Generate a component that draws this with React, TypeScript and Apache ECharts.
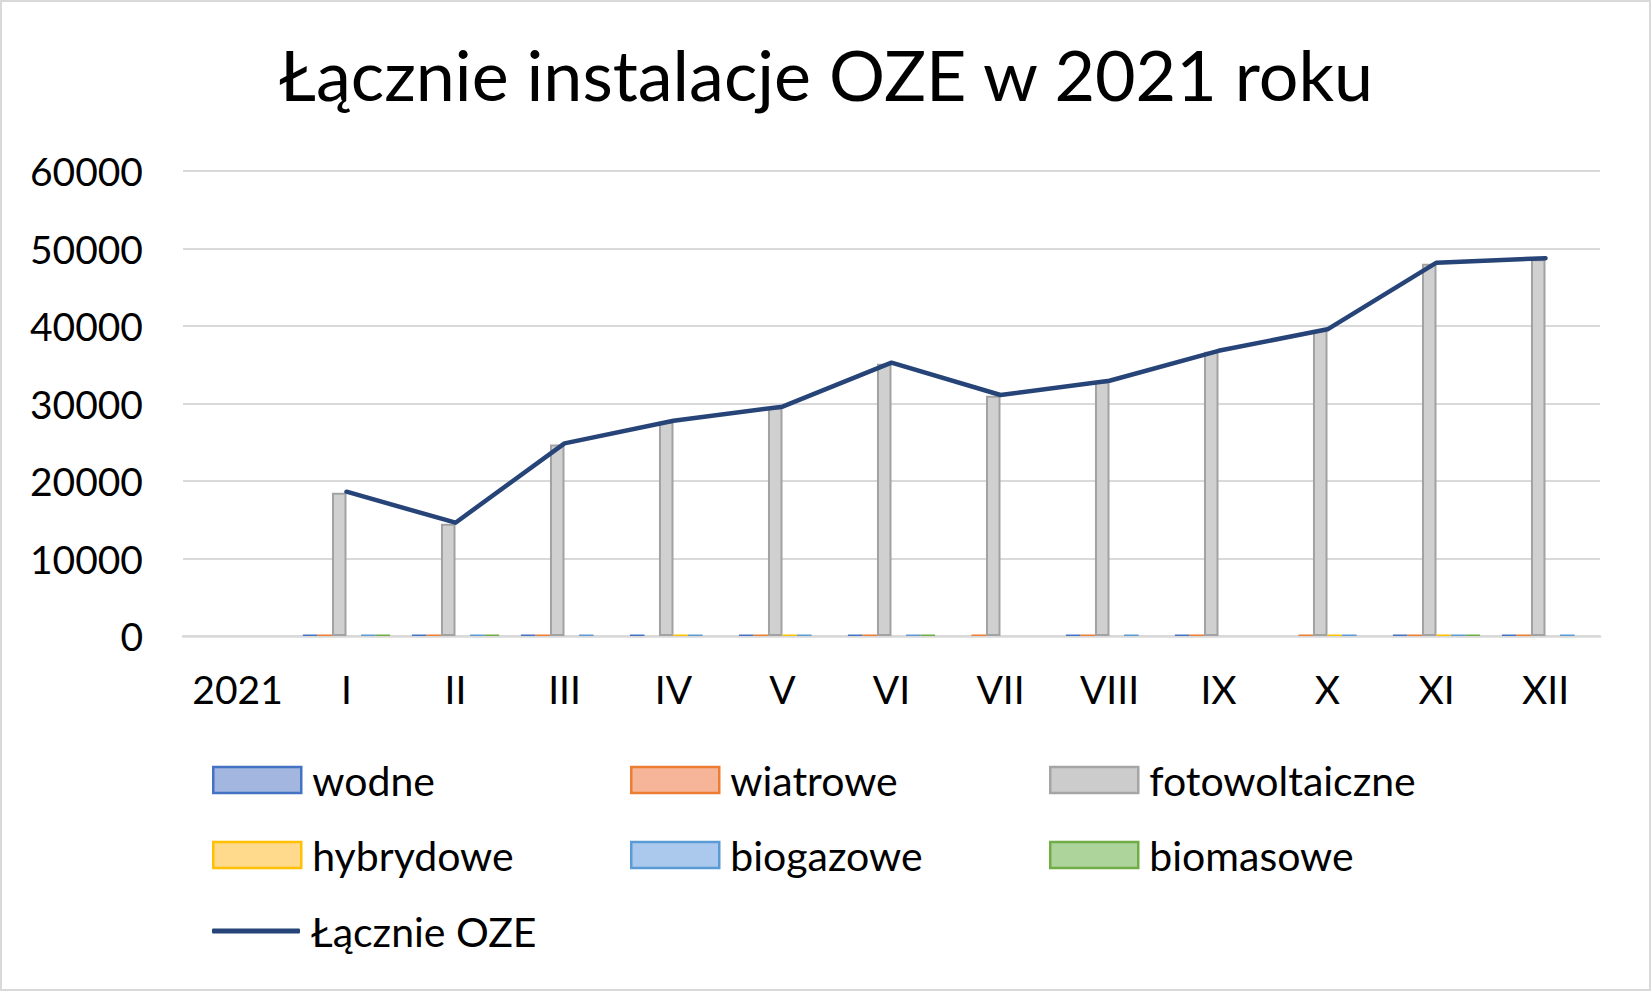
import React, { useEffect, useRef } from "react";
import * as echarts from "echarts";

const categories = ["2021", "I", "II", "III", "IV", "V", "VI", "VII", "VIII", "IX", "X", "XI", "XII"];
const yTicks = { min: 0, max: 60000, interval: 10000 };

const wodne: (number | string)[] = ["-", 22, 19, 24, 18, 21, 23, "-", 20, 17, "-", 25, 21];
const wiatrowe: (number | string)[] = ["-", 15, 14, 12, "-", 16, 13, 11, 14, 12, 13, 15, 14];
const fotowoltaiczne: (number | string)[] = ["-", 18480, 14500, 24720, 27650, 29460, 35130, 30990, 32810, 36690, 39440, 48020, 48600];
const hybrydowe: (number | string)[] = ["-", "-", "-", "-", 6, 5, "-", "-", "-", "-", 7, 6, "-"];
const biogazowe: (number | string)[] = ["-", 9, 8, 10, 7, 9, 8, "-", 9, "-", 8, 10, 9];
const biomasowe: (number | string)[] = ["-", 5, 4, "-", "-", "-", 6, "-", "-", "-", "-", 5, "-"];
const lacznieOZE: (number | string)[] = ["-", 18620, 14620, 24860, 27780, 29590, 35270, 31100, 32940, 36800, 39570, 48170, 48750];

const FONT = "Lato, 'Open Sans', sans-serif";

export default function App() {
  const ref = useRef<HTMLDivElement>(null);

  useEffect(() => {
    if (!ref.current) return;
    const chart = echarts.init(ref.current, undefined, { renderer: "svg" });

    const smallBar = (name: string, data: (number | string)[], color: string) => ({
      name,
      type: "bar",
      data,
      barMinHeight: 1.5,
      itemStyle: { color },
    });

    const legendItem = (
      name: string,
      left: number,
      top: number,
      fill: string,
      border: string,
      isLine = false
    ) => ({
      show: true,
      left,
      top: isLine ? top : top,
      padding: 0,
      itemWidth: 88,
      itemHeight: isLine ? 5 : 26,
      selectedMode: false,
      textStyle: { fontFamily: FONT, fontSize: 41, color: "#000", lineHeight: 46, padding: [0, 0, 0, 6] },
      data: [
        isLine
          ? { name, icon: "roundRect", itemStyle: { color: border, borderWidth: 0 } }
          : { name, icon: "rect", itemStyle: { color: fill, borderColor: border, borderWidth: 2.5 } },
      ],
    });

    const col = [212, 630, 1049];
    const row = [757, 832, 908];

    chart.setOption({
      animation: false,
      backgroundColor: "#fff",
      title: {
        text: "Łącznie instalacje OZE w 2021 roku",
        left: "center",
        top: 34,
        textStyle: { fontFamily: FONT, fontSize: 70, fontWeight: "normal", color: "#000" },
      },
      graphic: [
        {
          type: "rect",
          shape: { x: 1, y: 1, width: 1649, height: 989 },
          style: { fill: "none", stroke: "#d9d9d9", lineWidth: 2 },
          silent: true,
        },
      ],
      legend: [
        legendItem("wodne", col[0], row[0], "#a3b6e0", "#4472c4"),
        legendItem("wiatrowe", col[1], row[0], "#f6b598", "#ed7d31"),
        legendItem("fotowoltaiczne", col[2], row[0], "#cccccc", "#a5a5a5"),
        legendItem("hybrydowe", col[0], row[1], "#ffda8c", "#ffc000"),
        legendItem("biogazowe", col[1], row[1], "#abc9ec", "#5b9bd5"),
        legendItem("biomasowe", col[2], row[1], "#add49b", "#70ad47"),
        legendItem("Łącznie OZE", col[0], row[2], "#264478", "#264478", true),
      ],
      grid: { left: 183, right: 52, top: 171, bottom: 356, containLabel: false },
      xAxis: {
        type: "category",
        data: categories,
        axisTick: { show: false },
        axisLine: { lineStyle: { color: "#d9d9d9", width: 2.5 } },
        axisLabel: { fontFamily: FONT, fontSize: 39, color: "#000", margin: 33, interval: 0 },
      },
      yAxis: {
        type: "value",
        min: yTicks.min,
        max: yTicks.max,
        interval: yTicks.interval,
        axisLine: { show: false },
        axisTick: { show: false },
        splitLine: { lineStyle: { color: "#d9d9d9", width: 2 } },
        axisLabel: {
          fontFamily: FONT,
          fontSize: 39,
          color: "#000",
          margin: 40,
          formatter: (v: number) => String(v),
        },
      },
      series: [
        { ...smallBar("wodne", wodne, "#4472c4"), barGap: "0%", barCategoryGap: "20%" },
        smallBar("wiatrowe", wiatrowe, "#ed7d31"),
        {
          name: "fotowoltaiczne",
          type: "bar",
          data: fotowoltaiczne,
          itemStyle: { color: "#d0d0d0", borderColor: "#a2a2a2", borderWidth: 2 },
        },
        smallBar("hybrydowe", hybrydowe, "#ffc000"),
        smallBar("biogazowe", biogazowe, "#5b9bd5"),
        smallBar("biomasowe", biomasowe, "#70ad47"),
        {
          name: "Łącznie OZE",
          type: "line",
          data: lacznieOZE,
          symbol: "none",
          z: 5,
          lineStyle: { color: "#264478", width: 4.5, cap: "round", join: "round" },
          itemStyle: { color: "#264478" },
        },
      ],
    });

    return () => chart.dispose();
  }, []);

  return <div ref={ref} style={{ position: "absolute", left: 0, top: 0, width: 1652, height: 992 }} />;
}
